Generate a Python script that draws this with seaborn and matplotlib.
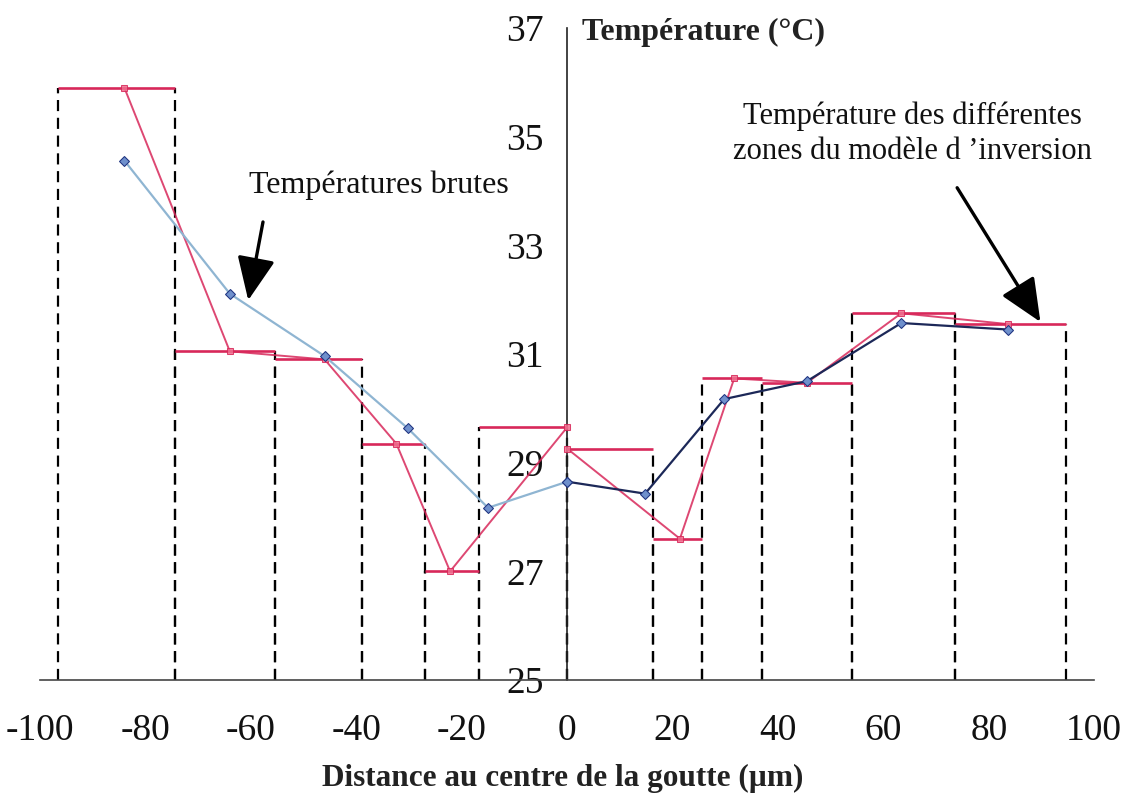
import matplotlib
matplotlib.use("Agg")
import matplotlib.pyplot as plt
import numpy as np
import pandas as pd
import seaborn as sns

# Inversion-model zones: boundaries (µm) and zone temperature (°C)
zone_edges = [-96.5, -74.4, -55.4, -38.9, -26.9, -16.7, 0.0, 16.3, 25.6, 37.0, 54.1, 73.6, 94.7]
zone_temp = [35.9, 31.05, 30.9, 29.35, 27.0, 29.65, 29.26, 27.6, 30.55, 30.47, 31.75, 31.55]
zone_mark_x = [-84.0, -64.0, -46.0, -32.4, -22.2, 0.0, 0.0, 21.4, 31.7, 45.5, 63.4, 83.7]

# Raw measured temperatures
raw_x = [-84.0, -64.0, -46.0, -30.2, -15.0, 0.0, 14.8, 29.8, 45.5, 63.4, 83.7]
raw_t = [34.56, 32.11, 30.96, 29.63, 28.17, 28.65, 28.43, 30.17, 30.5, 31.57, 31.45]

x_ticks = list(range(-100, 101, 20))
y_ticks = list(range(25, 38, 2))

x_label = "Distance au centre de la goutte (µm)"
y_label = "Température (°C)"
note_raw = "Températures brutes"
note_zone = "Température des différentes\nzones du modèle d \u2019inversion"

RED = "#d8285a"
NAVY = "#1f3380"

sns.set_style("white")
plt.rcParams["font.family"] = ["Liberation Serif", "DejaVu Serif"]

fig = plt.figure(figsize=(11.25, 8.02), dpi=100)
ax = fig.add_axes([0.0356, 0.1521, 0.937, 0.813])

# Dashed zone boxes with solid red tops
for i, t in enumerate(zone_temp):
    x0, x1 = zone_edges[i], zone_edges[i + 1]
    ax.vlines([x0, x1], 25, t, colors="black", linewidth=1.6,
              linestyles=(0, (5, 3)), zorder=2)
    ax.hlines(t, x0, x1, colors=RED, linewidth=1.9, zorder=3)

# Zone temperatures joined at their markers (left and right halves)
n_left_zone = 6
zone_df = pd.DataFrame({
    "x": zone_mark_x,
    "t": zone_temp,
    "side": ["gauche"] * n_left_zone + ["droite"] * (len(zone_temp) - n_left_zone),
})
sns.lineplot(data=zone_df, x="x", y="t", hue="side", sort=False, estimator=None,
             palette={"gauche": RED, "droite": RED}, linewidth=1.4,
             marker="s", markersize=5, markeredgecolor=RED, markerfacecolor="#f07090",
             legend=False, ax=ax, zorder=4, alpha=0.85)

# Raw temperatures, light line on the left half, dark line on the right half
left_idx = [i for i, x in enumerate(raw_x) if x <= 0]
right_idx = [i for i, x in enumerate(raw_x) if x >= 0]
raw_df = pd.DataFrame({
    "x": [raw_x[i] for i in left_idx] + [raw_x[i] for i in right_idx],
    "t": [raw_t[i] for i in left_idx] + [raw_t[i] for i in right_idx],
    "side": ["gauche"] * len(left_idx) + ["droite"] * len(right_idx),
})
sns.lineplot(data=raw_df, x="x", y="t", hue="side", sort=False, estimator=None,
             palette={"gauche": "#8fb5d2", "droite": "#1c2858"}, linewidth=1.6,
             marker="D", markersize=5, markeredgecolor=NAVY, markerfacecolor="#6f90cc",
             legend=False, ax=ax, zorder=5)

ax.set_xlim(-100, 100)
ax.set_ylim(25, 37)
ax.set_xticks(x_ticks)
ax.set_xticklabels([str(v) for v in x_ticks])
ax.set_yticks(y_ticks)
ax.set_yticklabels([str(v) for v in y_ticks])
ax.set_xlabel("")
ax.set_ylabel("")

for side in ("top", "right"):
    ax.spines[side].set_visible(False)
ax.spines["left"].set_position(("data", 0))
ax.spines["left"].set_color("#222222")
ax.spines["bottom"].set_color("#444444")
ax.spines["left"].set_linewidth(1.2)
ax.spines["bottom"].set_linewidth(1.2)

ax.tick_params(axis="x", direction="out", length=6, width=1, colors="#444444",
               labelcolor="#111111", labelsize=27, pad=18)
ax.tick_params(axis="y", direction="out", length=5, width=1, colors="#222222",
               labelcolor="#111111", labelsize=27, pad=12)
ax.set_facecolor("white")

fig.text(563 / 1125, 1 - 778 / 802, x_label, ha="center", va="center",
         fontsize=22.5, fontweight="bold", color="#222222")
fig.text(582 / 1125, 1 - 32 / 802, y_label, ha="left", va="center",
         fontsize=23, fontweight="bold", color="#222222")

arrow_kw = dict(arrowstyle="-|>,head_length=0.95,head_width=0.42", color="black",
                lw=2.4, mutation_scale=28, facecolor="#34403f", shrinkA=0, shrinkB=0)
ax.text(-35.8, 34.11, note_raw, ha="center", va="center", fontsize=23, color="#111111")
ax.annotate("", xy=(-60.5, 31.99), xytext=(-57.7, 33.43), arrowprops=arrow_kw)

ax.text(65.5, 35.05, note_zone, ha="center", va="center", fontsize=22,
        color="#111111", linespacing=1.25)
ax.annotate("", xy=(89.8, 31.59), xytext=(74.0, 34.06), arrowprops=arrow_kw)

fig.savefig("out.png", dpi=100, facecolor="white")
